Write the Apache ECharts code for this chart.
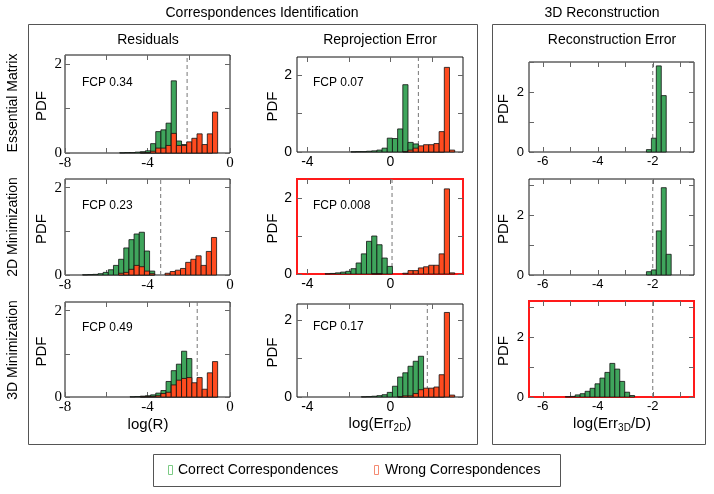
<!DOCTYPE html>
<html>
<head>
<meta charset="UTF-8">
<title>chart</title>
<style>html,body{margin:0;background:#fff}#chart{width:714px;height:494px}</style>
</head>
<body>
<div id="chart"></div>
<script src="https://cdn.jsdelivr.net/npm/echarts@6/dist/echarts.min.js"></script>
<script>
// histogram bins: first bin edge + heights per bin (PDF)
var residBinW = 0.25, reprojBinW = 0.25, reconBinW = 0.18;

// Essential Matrix
var essResidX0 = -5.35;
var essResidCorrect = [0.005, 0.01, 0.01, 0.02, 0.03, 0.05, 0.21, 0.48, 0.52, 0.67, 1.62, 0.27, 0.19, 0.1, 0.06, 0.03, 0.02, 0.01, 0];
var essResidWrong = [0, 0, 0, 0, 0.005, 0.01, 0.04, 0.11, 0.11, 0.17, 0.44, 0.17, 0.17, 0.25, 0.33, 0.43, 0.19, 0.43, 0.92];
var essReprojX0 = -1.9;
var essReprojCorrect = [0.005, 0.01, 0.01, 0.02, 0.03, 0.05, 0.1, 0.36, 0.35, 0.6, 1.75, 0.25, 0.21, 0.12, 0.06, 0.03, 0.02, 0.01, 0, 0];
var essReprojWrong = [0, 0, 0, 0, 0, 0, 0, 0, 0, 0, 0.01, 0.05, 0.1, 0.16, 0.19, 0.19, 0.22, 0.53, 2.2, 0.05];
var essReconX0 = -2.23;
var essReconCorrect = [0.08, 0.46, 2.87, 1.88];

// 2D Minimization
var min2dResidX0 = -7.15;
var min2dResidCorrect = [0.005, 0.01, 0.015, 0.03, 0.06, 0.12, 0.22, 0.36, 0.62, 0.81, 0.94, 0.98, 0.55, 0.09, 0, 0, 0, 0, 0, 0, 0, 0, 0, 0, 0, 0];
var min2dResidWrong = [0, 0, 0, 0, 0, 0, 0, 0.04, 0.06, 0.13, 0.22, 0.19, 0.09, 0.03, 0, 0, 0.04, 0.08, 0.11, 0.15, 0.29, 0.36, 0.44, 0.22, 0.54, 0.86];
var min2dReprojX0 = -3.15;
var min2dReprojCorrect = [0.005, 0.015, 0.03, 0.05, 0.07, 0.14, 0.29, 0.53, 0.86, 1.0, 0.77, 0.42, 0.2, 0, 0, 0, 0, 0, 0, 0, 0, 0, 0, 0, 0];
var min2dReprojWrong = [0, 0, 0, 0, 0, 0, 0, 0, 0, 0.01, 0.01, 0, 0, 0, 0, 0.02, 0.09, 0.09, 0.16, 0.19, 0.23, 0.23, 0.53, 2.24, 0.03];
var min2dReconX0 = -2.23;
var min2dReconCorrect = [0.11, 0.17, 1.47, 2.91, 0.69];

// 3D Minimization
var min3dResidX0 = -4.85;
var min3dResidCorrect = [0.005, 0.01, 0.02, 0.03, 0.05, 0.09, 0.15, 0.36, 0.61, 0.76, 1.06, 0.89, 0.3, 0.15, 0.08, 0.03, 0.01];
var min3dResidWrong = [0, 0, 0.005, 0.01, 0.015, 0.03, 0.08, 0.11, 0.28, 0.39, 0.43, 0.45, 0.33, 0.45, 0.18, 0.56, 0.82];
var min3dReprojX0 = -1.4;
var min3dReprojCorrect = [0.005, 0.01, 0.02, 0.035, 0.06, 0.12, 0.28, 0.52, 0.63, 0.8, 0.93, 1.06, 0.15, 0.05, 0.02, 0.01, 0, 0];
var min3dReprojWrong = [0, 0, 0, 0, 0, 0, 0, 0.005, 0.03, 0.03, 0.09, 0.19, 0.23, 0.23, 0.26, 0.58, 2.2, 0.05];
var min3dReconX0 = -5.18;
var min3dReconCorrect = [0.01, 0.02, 0.07, 0.11, 0.19, 0.29, 0.44, 0.63, 0.82, 1.12, 0.93, 0.52, 0.16, 0.05];

// thresholds (dashed lines) and FCP values
var thresholds = [-2.08, 1.35, -2.0, -3.36, 0.08, -2.0, -1.59, 1.78, -2.0];
var fcpLabels = ["FCP 0.34", "FCP 0.07", null, "FCP 0.23", "FCP 0.008", null, "FCP 0.49", "FCP 0.17", null];

var rowNames = ["Essential Matrix", "2D Minimization", "3D Minimization"];
var colNames = ["Residuals", "Reprojection Error", "Reconstruction Error"];

var chart = echarts.init(document.getElementById("chart"), null, {renderer: "canvas"});

var GREEN = "#3fa55c", RED = "#ff4b1f";
var SANS = "Liberation Sans", SERIF = "Liberation Serif";

var cols = [
    {min: -8, max: 0, ticks: [-8, -6, -4, -2, 0], labels: [-8, -4, 0], font: SERIF, size: 15, binW: residBinW, ymargin: 3},
    {min: -4.5, max: 3.5, ticks: [-4, -2, 0, 2], labels: [-4, 0], font: SANS, size: 14, binW: reprojBinW, ymargin: 5},
    {min: -6.5, max: -0.5, ticks: [-6, -5, -4, -3, -2, -1], labels: [-6, -4, -2], font: SANS, size: 13, binW: reconBinW, ymargin: 5}
];
var panelData = [
    [essResidX0, essResidCorrect, essResidWrong], [essReprojX0, essReprojCorrect, essReprojWrong], [essReconX0, essReconCorrect, null],
    [min2dResidX0, min2dResidCorrect, min2dResidWrong], [min2dReprojX0, min2dReprojCorrect, min2dReprojWrong], [min2dReconX0, min2dReconCorrect, null],
    [min3dResidX0, min3dResidCorrect, min3dResidWrong], [min3dReprojX0, min3dReprojCorrect, min3dReprojWrong], [min3dReconX0, min3dReconCorrect, null]
];
// panel boxes [left, top, width, height] and y max
var boxes = [[65, 55, 165, 98], [297, 57, 166, 95], [529, 62, 165, 90],
             [65, 179, 165, 96], [297, 179, 166, 95], [529, 179, 165, 96],
             [65, 302, 165, 95], [297, 304, 166, 93], [529, 301, 165, 96]];
var yMaxes = [2.2, 2.47, 3.0, 2.2, 2.5, 3.2, 2.2, 2.42, 3.2];
var highlighted = [4, 8];

var grids = [], xAxes = [], yAxes = [], series = [], graphics = [];

function barRenderer(binW, color) {
    return function (params, api) {
        var x = api.value(0), h = api.value(1);
        if (!(h > 0)) return null;
        var p0 = api.coord([x, 0]);
        var p1 = api.coord([x + binW, h]);
        return {
            type: "rect",
            shape: {x: p0[0], y: p1[1], width: p1[0] - p0[0], height: p0[1] - p1[1]},
            style: {fill: color, stroke: "#111", lineWidth: 0.8}
        };
    };
}

function tick(values) {
    return {show: true, customValues: values, inside: true, length: 5, lineStyle: {color: "#666", width: 1}};
}
var noLine = {show: false, onZero: false};

for (var i = 0; i < 9; i++) {
    var c = cols[i % 3], b = boxes[i], ymax = yMaxes[i];
    var hl = highlighted.indexOf(i) >= 0;
    var yTicks = ymax >= 3 ? [0, 1, 2, 3] : [0, 1, 2];
    grids.push({left: b[0], top: b[1], width: b[2], height: b[3], show: true,
        borderColor: hl ? "#ff1a1a" : "#111", borderWidth: hl ? 2 : 1, backgroundColor: "transparent"});
    xAxes.push({gridIndex: i, type: "value", position: "bottom", min: c.min, max: c.max,
        axisLine: noLine, splitLine: {show: false}, axisTick: tick(c.ticks),
        axisLabel: {customValues: c.labels, fontFamily: c.font, fontSize: c.size, color: "#000", margin: 3}});
    xAxes.push({gridIndex: i, type: "value", position: "top", min: c.min, max: c.max,
        axisLine: noLine, splitLine: {show: false}, axisTick: tick(c.ticks),
        axisLabel: {show: false}});
    yAxes.push({gridIndex: i, type: "value", position: "left", min: 0, max: ymax,
        axisLine: noLine, splitLine: {show: false}, axisTick: tick(yTicks),
        axisLabel: {customValues: [0, 2], fontFamily: c.font, fontSize: c.size, color: "#000", margin: c.ymargin}});
    yAxes.push({gridIndex: i, type: "value", position: "right", min: 0, max: ymax,
        axisLine: noLine, splitLine: {show: false}, axisTick: tick(yTicks),
        axisLabel: {show: false}});

    var pd = panelData[i];
    series.push({type: "line", xAxisIndex: 2 * i, yAxisIndex: 2 * i, symbol: "none", silent: true,
        data: [[thresholds[i], 0], [thresholds[i], ymax]],
        lineStyle: {type: [4, 3], color: "#777", width: 1}, z: 1});
    var mk = function (arr) {
        return arr.map(function (v, k) { return [pd[0] + k * c.binW, v]; });
    };
    series.push({type: "custom", xAxisIndex: 2 * i, yAxisIndex: 2 * i, silent: true, z: 2,
        renderItem: barRenderer(c.binW, GREEN), encode: {x: 0, y: 1}, data: mk(pd[1])});
    if (pd[2]) {
        series.push({type: "custom", xAxisIndex: 2 * i, yAxisIndex: 2 * i, silent: true, z: 3,
            renderItem: barRenderer(c.binW, RED), encode: {x: 0, y: 1}, data: mk(pd[2])});
    }

    // PDF label
    var pdfX = [42, 273, 504][i % 3];
    graphics.push({type: "text", x: pdfX, y: b[1] + b[3] / 2 + 2, rotation: Math.PI / 2,
        style: {text: "PDF", font: "15px " + SANS, fill: "#000", align: "center", verticalAlign: "middle", textAlign: "center", textVerticalAlign: "middle"}});
    if (fcpLabels[i]) {
        graphics.push({type: "text", x: [82, 313][i % 3], y: [83, 83, 0, 206, 206, 0, 328, 327, 0][i],
            style: {text: fcpLabels[i], font: "12px " + SANS, fill: "#000", align: "left", verticalAlign: "middle", textAlign: "left", textVerticalAlign: "middle"}});
    }
}

function txt(x, y, s, size, rot) {
    return {type: "text", x: x, y: y, rotation: rot || 0,
        style: {text: s, font: size + "px " + SANS, fill: "#000", align: "center", verticalAlign: "middle", textAlign: "center", textVerticalAlign: "middle"}};
}

// frames
graphics.push({type: "rect", shape: {x: 28.5, y: 24.5, width: 449, height: 420}, style: {fill: null, stroke: "#555", lineWidth: 1}});
graphics.push({type: "rect", shape: {x: 492.5, y: 24.5, width: 213, height: 420}, style: {fill: null, stroke: "#555", lineWidth: 1}});
graphics.push(txt(262, 13, "Correspondences Identification", 14));
graphics.push(txt(602, 13, "3D Reconstruction", 14));
graphics.push(txt(148, 40, colNames[0], 14));
graphics.push(txt(380, 40, colNames[1], 14));
graphics.push(txt(612, 40, colNames[2], 14));
graphics.push(txt(13, 103, rowNames[0], 14, Math.PI / 2));
graphics.push(txt(13, 227, rowNames[1], 14, Math.PI / 2));
graphics.push(txt(13, 350, rowNames[2], 14, Math.PI / 2));

// x axis names (bottom row)
var richBase = {n: {fontSize: 15, fontFamily: SANS, lineHeight: 18}, s: {fontSize: 10, fontFamily: SANS, lineHeight: 18, padding: [9, 0, 0, 0]}};
graphics.push(txt(148, 425, "log(R)", 15));
[["{n|log(Err}{s|2D}{n|)}", 380], ["{n|log(Err}{s|3D}{n|/D)}", 612]].forEach(function (a) {
    graphics.push({type: "text", x: a[1], y: 424,
        style: {text: a[0], rich: richBase, fill: "#000", align: "center", verticalAlign: "middle", textAlign: "center", textVerticalAlign: "middle"}});
});

// legend
graphics.push({type: "rect", shape: {x: 153.5, y: 454.5, width: 407, height: 32}, style: {fill: null, stroke: "#555", lineWidth: 1}});
graphics.push({type: "rect", shape: {x: 168.5, y: 465.5, width: 4, height: 9}, style: {fill: null, stroke: "#7ccb85", lineWidth: 1}});
graphics.push({type: "rect", shape: {x: 374.5, y: 465.5, width: 4, height: 9}, style: {fill: null, stroke: "#f58a72", lineWidth: 1}});
graphics.push({type: "text", x: 178, y: 470, style: {text: "Correct Correspondences", font: "14px " + SANS, fill: "#000", align: "left", verticalAlign: "middle", textAlign: "left", textVerticalAlign: "middle"}});
graphics.push({type: "text", x: 385, y: 470, style: {text: "Wrong Correspondences", font: "14px " + SANS, fill: "#000", align: "left", verticalAlign: "middle", textAlign: "left", textVerticalAlign: "middle"}});

chart.setOption({
    animation: false,
    backgroundColor: "#fff",
    grid: grids,
    xAxis: xAxes,
    yAxis: yAxes,
    series: series,
    graphic: {elements: graphics}
});
</script>
</body>
</html>
